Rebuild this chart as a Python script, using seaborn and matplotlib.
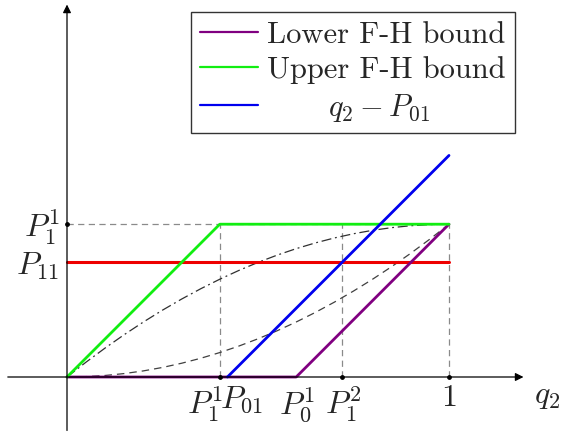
import numpy as np
import pandas as pd
import matplotlib
matplotlib.use('Agg')
import matplotlib.pyplot as plt
import seaborn as sns

# key positions on the axes
P1_1 = 0.40
P01 = 0.42
P0_1 = 0.60
P1_2 = 0.72
P11 = 0.30

# piecewise lines
lower_x = [0.0, P0_1, 1.0]
lower_y = [0.0, 0.0, 0.40]
upper_x = [0.0, P1_1, 1.0]
upper_y = [0.0, 0.40, 0.40]
blue_x = [P01, 1.0]
blue_y = [0.0, 0.58]
red_x = [0.0, 1.0]
red_y = [P11, P11]

# curves between the bounds
curve_x = [0.0, 0.05, 0.1, 0.15, 0.2, 0.25, 0.3, 0.35, 0.4, 0.45, 0.5,
           0.55, 0.6, 0.65, 0.7, 0.75, 0.8, 0.85, 0.9, 0.95, 1.0]
dashdot_y = [0.0, 0.039, 0.076, 0.111, 0.144, 0.175, 0.204, 0.231, 0.256, 0.279, 0.3,
             0.319, 0.336, 0.351, 0.364, 0.375, 0.384, 0.391, 0.396, 0.399, 0.4]
dashed_y = [0.0, 0.001, 0.004, 0.009, 0.016, 0.025, 0.036, 0.049, 0.064, 0.081, 0.1,
            0.121, 0.144, 0.169, 0.196, 0.225, 0.256, 0.289, 0.324, 0.361, 0.4]

xtick_labels = [(0.361, r'$P_1^1$'), (0.458, r'$P_{01}$'), (0.602, r'$P_0^1$'),
                (0.722, r'$P_1^2$'), (1.0, '$1$')]

sns.set_style('white')
plt.rcParams['mathtext.fontset'] = 'cm'
plt.rcParams['font.family'] = ['cmr10', 'DejaVu Serif']
plt.rcParams['axes.formatter.use_mathtext'] = True

fig = plt.figure(figsize=(5.62, 4.33), dpi=100)
ax = fig.add_axes([0, 0, 1, 1])
ax.set_xlim(-67 / 382, (562 - 67) / 382)
ax.set_ylim(-56 / 382, 377 / 382)
ax.axis('off')

# grey dashed guides
guide = dict(color='#8a8a8a', lw=0.9, dashes=(5, 3.5), zorder=1)
ax.plot([0, 1], [0.4, 0.4], **guide)
for gx in [P1_1, P1_2, 1.0]:
    ax.plot([gx, gx], [0, 0.4], **guide)

# curves
sns.lineplot(x=curve_x, y=dashdot_y, ax=ax, color='#303030', lw=0.9,
             sort=False, zorder=2).lines[-1].set_dashes([8, 3, 1.5, 3])
sns.lineplot(x=curve_x, y=dashed_y, ax=ax, color='#404040', lw=0.9,
             sort=False, zorder=2).lines[-1].set_dashes([6, 4])

sns.lineplot(x=red_x, y=red_y, ax=ax, color='#ee0000', lw=2.2, sort=False, zorder=3)
sns.lineplot(x=lower_x, y=lower_y, ax=ax, color='#800080', lw=2.0, sort=False,
             zorder=4, label='Lower F-H bound')
sns.lineplot(x=upper_x, y=upper_y, ax=ax, color='#11ee11', lw=2.0, sort=False,
             zorder=4, label='Upper F-H bound')
sns.lineplot(x=blue_x, y=blue_y, ax=ax, color='#0000ee', lw=2.0, sort=False,
             zorder=4, label='      $q_2 - P_{01}$')

# axes with arrows
arrow = dict(arrowstyle='-|>', color='black', lw=0.9, mutation_scale=12,
             shrinkA=0, shrinkB=0)
ax.annotate('', xy=(1.195, 0), xytext=(-0.155, 0), arrowprops=arrow, zorder=5)
ax.annotate('', xy=(0, 0.975), xytext=(0, -0.14), arrowprops=arrow, zorder=5)

# tick dots
ax.scatter([P1_1, P1_2, 1.0, 0.0], [0, 0, 0, 0.4], s=6, color='black', zorder=6)

for tx, lab in xtick_labels:
    ax.text(tx, -0.02, lab, ha='center', va='top', fontsize=23)
ax.text(1.257, -0.052, '$q_2$', ha='center', va='center', fontsize=23)
ax.text(-0.02, 0.393, r'$P_1^1$', ha='right', va='center', fontsize=23)
ax.text(-0.02, 0.29, r'$P_{11}$', ha='right', va='center', fontsize=23)

leg = ax.legend(loc='upper right', bbox_to_anchor=(515 / 562, 1 - 12 / 433),
                bbox_transform=fig.transFigure, borderaxespad=0, fontsize=22,
                fancybox=False, framealpha=1, edgecolor='#333333',
                handlelength=1.9, handletextpad=0.3, labelspacing=0.25,
                borderpad=0.3)
leg.get_frame().set_linewidth(1.0)
for h in leg.get_lines():
    h.set_linewidth(1.6)

fig.savefig('out.png', dpi=100)
